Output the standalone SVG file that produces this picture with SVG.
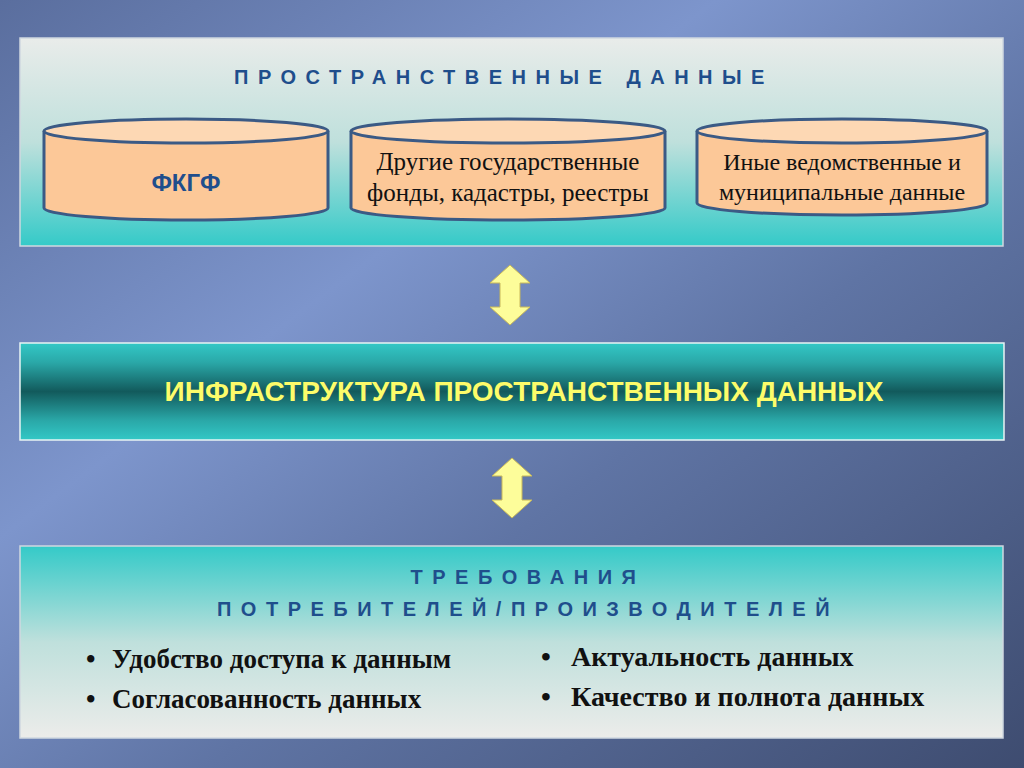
<svg xmlns="http://www.w3.org/2000/svg" width="1024" height="768" viewBox="0 0 1024 768">
<defs>
<linearGradient id="bg" x1="0" y1="0" x2="1" y2="1">
<stop offset="0" stop-color="#5a6e9e"/><stop offset="0.35" stop-color="#7d95cc"/><stop offset="0.6" stop-color="#5f74a4"/><stop offset="1" stop-color="#3e4c70"/>
</linearGradient>
<linearGradient id="panel" x1="0" y1="0" x2="0" y2="1">
<stop offset="0" stop-color="#e9ecea"/><stop offset="0.5" stop-color="#bfe0dc"/><stop offset="1" stop-color="#34cac8"/>
</linearGradient>
<linearGradient id="panel2" x1="0" y1="0" x2="0" y2="1">
<stop offset="0" stop-color="#34cac8"/><stop offset="0.5" stop-color="#bfe0dc"/><stop offset="1" stop-color="#ececea"/>
</linearGradient>
<linearGradient id="bar" x1="0" y1="0" x2="0" y2="1">
<stop offset="0" stop-color="#33c8c6"/><stop offset="0.2" stop-color="#2aa8a8"/><stop offset="0.5" stop-color="#125a5c"/><stop offset="0.8" stop-color="#2aa8a8"/><stop offset="1" stop-color="#33c8c6"/>
</linearGradient>
<path id="arr" d="M0,-30 L20,-12 L10,-12 L10,12 L20,12 L0,30 L-20,12 L-10,12 L-10,-12 L-20,-12 Z"/>
</defs>
<style>
.cyl{fill:#fcc898;stroke:#3b5a85;stroke-width:3}
.top{fill:#fdd8b4;stroke:#3b5a85;stroke-width:3}
.ser{font-family:"Liberation Serif",serif;fill:#111;text-anchor:middle}
.sp{font-family:"Liberation Sans",sans-serif;font-weight:bold;fill:#1f4e8c;letter-spacing:9.5px;text-anchor:middle;font-size:20px}
.a{fill:#fdfd9a;stroke:#c8b85a;stroke-width:1}
</style>
<rect width="1024" height="768" fill="url(#bg)"/>
<g id="top-panel">
<rect x="20" y="38" width="983" height="208" fill="url(#panel)" stroke="#cfd8e0" stroke-width="1.5"/>
<text class="sp" x="504" y="84">ПРОСТРАНСТВЕННЫЕ ДАННЫЕ</text>
</g>
<g id="fkgf">
<path class="cyl" d="M44,131 V208 A142,12 0 0 0 328,208 V131"/>
<ellipse class="top" cx="186" cy="131" rx="142" ry="12"/>
<text x="186" y="191" text-anchor="middle" font-family="Liberation Sans,sans-serif" font-weight="bold" font-size="24" fill="#1f4e8c">ФКГФ</text>
</g>
<g id="other">
<path class="cyl" d="M351,131 V208 A157,12 0 0 0 665,208 V131"/>
<ellipse class="top" cx="508" cy="131" rx="157" ry="12"/>
<text class="ser" x="508" y="170" font-size="25">Другие государственные</text>
<text class="ser" x="508" y="201" font-size="25">фонды, кадастры, реестры</text>
</g>
<g id="inye">
<path class="cyl" d="M697,131 V203 A145,12 0 0 0 987,203 V131"/>
<ellipse class="top" cx="842" cy="131" rx="145" ry="12"/>
<text class="ser" x="842" y="170" font-size="24">Иные ведомственные и</text>
<text class="ser" x="842" y="200" font-size="24">муниципальные данные</text>
</g>
<g id="connectors">
<use href="#arr" class="a" transform="translate(510,295)"/>
<use href="#arr" class="a" transform="translate(512,488)"/>
</g>
<g id="infra">
<rect x="20" y="343" width="984" height="97" fill="url(#bar)" stroke="#e8f4f4" stroke-width="1.5"/>
<text x="524" y="401" text-anchor="middle" font-family="Liberation Sans,sans-serif" font-weight="bold" font-size="28" fill="#fcfc6a">ИНФРАСТРУКТУРА ПРОСТРАНСТВЕННЫХ ДАННЫХ</text>
</g>
<g id="req">
<rect x="20" y="546" width="983" height="192" fill="url(#panel2)" stroke="#cfd8e0" stroke-width="1.5"/>
<text class="sp" x="528" y="584">ТРЕБОВАНИЯ</text>
<text class="sp" x="528" y="616">ПОТРЕБИТЕЛЕЙ/ПРОИЗВОДИТЕЛЕЙ</text>
<g font-family="Liberation Serif,serif" font-weight="bold" font-size="27" fill="#111">
<text x="86" y="668">•<tspan x="112">Удобство доступа к данным</tspan></text>
<text x="86" y="708">•<tspan x="112">Согласованность данных</tspan></text>
<text x="541" y="666" font-size="28">•<tspan x="571">Актуальность данных</tspan></text>
<text x="541" y="706" font-size="28">•<tspan x="571">Качество и полнота данных</tspan></text>
</g>
</g>
</svg>
